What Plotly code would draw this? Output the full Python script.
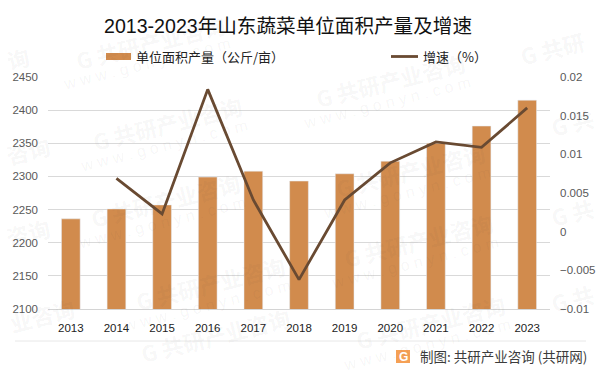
import plotly.graph_objects as go

years = ["2013","2014","2015","2016","2017","2018","2019","2020","2021","2022","2023"]
output = [2236,2251,2257,2299,2308,2293,2304,2323,2350,2376,2415]
growth = [None,0.0069,0.0023,0.0184,0.0041,-0.0062,0.0041,0.0089,0.0116,0.0109,0.016]
title = "2013-2023年山东蔬菜单位面积产量及增速"
bar_name = "单位面积产量（公斤/亩）"
line_name = "增速（%）"
credit = "制图: 共研产业咨询 (共研网)"
wm_full = "G 共研产业咨询"
wm_url = "w w w . g o n y n . c o m"
wm_full_at = [(150,42),(167,123),(390,80),(410,170),(165,200),(210,283),(418,240),(430,322),(215,335)]
wm_frag = [("询",18,58),("咨询",28,150),("咨询",28,232),("业咨询",42,315),
           ("G 共研",552,48),("G 共",572,122),("G 共",572,212),("G 共",572,298)]

CJK = "Noto Sans CJK SC"
L, R, T, B = 48, 550, 77, 309
def px(x): return (x-L)/(R-L)
def py(y): return (B-y)/(B-T)
def note(x, y, text, size, color, family=CJK, xanchor="center", angle=0):
    return dict(x=px(x), y=py(y), xref="paper", yref="paper", text=text, showarrow=False,
                xanchor=xanchor, yanchor="middle", textangle=angle,
                font=dict(family=family, size=size, color=color))

fig = go.Figure()
fig.add_bar(x=years, y=output, name=bar_name, marker_color="#D18B4D", width=0.41, yaxis="y", showlegend=False)
fig.add_scatter(x=years, y=growth, name=line_name, mode="lines", yaxis="y2", showlegend=False,
                line=dict(color="#694A32", width=2.8), connectgaps=False)

WM = "rgba(60,60,60,0.05)"
ann = []
for mx, my in wm_full_at:
    ann.append(note(mx, my, f"<b>{wm_full}</b>", 22, WM, angle=-14))
    if my < 330:
        ann.append(note(mx-3, my+22, wm_url, 16, WM, family="Liberation Sans", angle=-14))
for t, mx, my in wm_frag:
    ann.append(note(mx, my, f"<b>{t}</b>", 22, WM, angle=-14))
ann.append(note(134, 57, bar_name, 13, "#222222", xanchor="left"))
ann.append(note(421, 57, line_name, 13, "#222222", xanchor="left"))
ann.append(note(403, 356.5, "<b>G</b>", 12, "white", family="Liberation Sans"))
ann.append(note(418, 356, credit, 13.5, "#3C3C3C", xanchor="left"))

shapes = [
    dict(type="line", xref="paper", yref="paper", x0=px(15), x1=px(586), y0=py(341), y1=py(341),
         line=dict(color="#E8E8E8", width=1)),
    dict(type="rect", xref="paper", yref="paper", x0=px(106), x1=px(131), y0=py(60), y1=py(53),
         fillcolor="#D18B4D", line=dict(width=0)),
    dict(type="line", xref="paper", yref="paper", x0=px(391), x1=px(418), y0=py(56.5), y1=py(56.5),
         line=dict(color="#694A32", width=2.8)),
    dict(type="rect", xref="paper", yref="paper", x0=px(396), x1=px(410), y0=py(363), y1=py(350),
         fillcolor="#F5A055", line=dict(width=0), layer="below"),
]

fig.update_layout(
    width=601, height=373, autosize=False, paper_bgcolor="white", plot_bgcolor="rgba(0,0,0,0)",
    margin=dict(l=L, r=601-R, t=T, b=373-B, autoexpand=False), showlegend=False,
    title=dict(text=title, x=288/601, xanchor="center", xref="container", y=1-26/373, yanchor="middle",
               font=dict(family=f"Liberation Sans, {CJK}", size=19.6, color="#111111")),
    annotations=ann, shapes=shapes,
    xaxis=dict(type="category", showgrid=False, showline=True, linecolor="#D4D4D4", linewidth=1, ticks="",
               automargin=False, ticklabelstandoff=8,
               tickfont=dict(family="Liberation Sans", size=11.5, color="#222222")),
    yaxis=dict(range=[2100,2450], tick0=2100, dtick=50, gridcolor="#D9D9D9", gridwidth=1, zeroline=False,
               automargin=False, showline=False, ticklabelstandoff=9,
               tickfont=dict(family="Liberation Sans", size=11.5, color="#595959")),
    yaxis2=dict(range=[-0.01,0.02], tick0=-0.01, dtick=0.005, overlaying="y", side="right", showgrid=False,
                automargin=False, zeroline=False, showline=False, tickformat="~g", ticklabelstandoff=9,
                tickfont=dict(family="Liberation Sans", size=11.5, color="#595959")),
)
fig.write_html("out.html", config=dict(displayModeBar=False, staticPlot=True),
               post_script="document.body.style.margin='0';document.body.style.overflow='hidden';")
